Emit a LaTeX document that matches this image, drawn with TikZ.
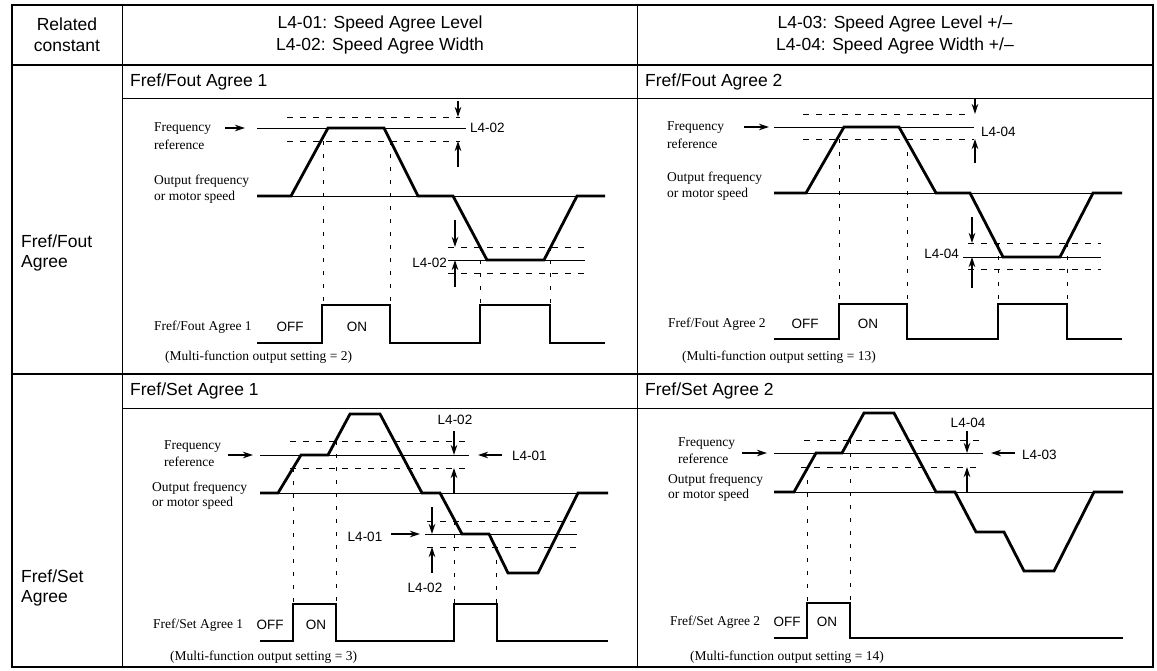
\documentclass[tikz,border=0pt]{standalone}
\usepackage{fontspec}
\newfontfamily\hv{Liberation Sans}
\newfontfamily\tm{Liberation Serif}
\usetikzlibrary{arrows.meta}
\begin{document}
\begin{tikzpicture}[x=1pt,y=-1pt,
  big/.style={inner sep=0pt,font=\hv\fontsize{17.5}{20}\selectfont},
  sm/.style={inner sep=0pt,font=\hv\fontsize{13.5}{15}\selectfont},
  sr/.style={inner sep=0pt,font=\tm\fontsize{13.5}{15}\selectfont},
  frame/.style={line width=2pt},
  grid/.style={line width=1pt},
  wave/.style={line width=2.8pt,line join=miter},
  thinl/.style={line width=1pt},
  dsh/.style={line width=0.8pt,dash pattern=on 6pt off 7pt},
  vdsh/.style={line width=0.7pt,dash pattern=on 4pt off 9pt},
  arr/.style={line width=1.1pt,-{Stealth[length=10pt,width=6.5pt]}}]
\useasboundingbox (0,0) rectangle (1157,670);
\fill[white] (0,0) rectangle (1157,670);
% ---------------- table ----------------
\draw[frame] (12,5) rectangle (1153,667);
\draw[line width=1.8pt] (12,65) -- (1153,65);
\draw[grid] (122,5) -- (122,667);
\draw[grid] (637,5) -- (637,667);
\draw[grid] (122,98) -- (1153,98);
\draw[line width=1.3pt] (12,374) -- (1153,374);
\draw[grid] (122,408) -- (1153,408);
\node[big] (hrel1) at (67,24) {Related};
\node[big] (hrel2) at (67,46) {constant};
\node[big] (hc1a) at (380,24) {L4-01: Speed Agree Level};
\node[big] (hc1b) at (380,46) {L4-02: Speed Agree Width};
\node[big] (hc2a) at (895,24) {L4-03: Speed Agree Level +/–};
\node[big] (hc2b) at (895,46) {L4-04: Speed Agree Width +/–};
\node[big,anchor=west] (sh1) at (130,81.5) {Fref/Fout Agree 1};
\node[big,anchor=west] (sh2) at (645,81.5) {Fref/Fout Agree 2};
\node[big,anchor=west] (sh3) at (130,391) {Fref/Set Agree 1};
\node[big,anchor=west] (sh4) at (645,391) {Fref/Set Agree 2};
\node[big,anchor=west] (rl1a) at (21,241) {Fref/Fout};
\node[big,anchor=west] (rl1b) at (21,263) {Agree};
\node[big,anchor=west] (rl2a) at (21,576) {Fref/Set};
\node[big,anchor=west] (rl2b) at (21,598) {Agree};
% ---------------- panel 1 ----------------
\node[sr,anchor=west] (p1fr1) at (154,129) {Frequency};
\node[sr,anchor=west] (p1fr2) at (154,145) {reference};
\node[sr,anchor=west] (p1of1) at (154,181) {Output frequency};
\node[sr,anchor=west] (p1of2) at (154,197) {or motor speed};
\coordinate (p1a0) at (225,128); \coordinate (p1a1) at (245,128);
\draw[arr] (p1a0) -- (p1a1);
\draw[thinl] (257,128) -- (466,128);
\draw[dsh] (287,117) -- (460,117);
\draw[dsh] (287,141) -- (460,141);
\draw[thinl] (257,196) -- (605,196);
\draw[thinl] (448,260) -- (585,260);
\draw[dsh] (448,247) -- (585,247);
\draw[dsh] (448,273) -- (585,273);
\draw[vdsh] (323,141) -- (323,305);
\draw[vdsh] (390,141) -- (390,305);
\draw[vdsh] (480,247) -- (480,305);
\draw[vdsh] (550,247) -- (550,305);
\draw[wave] (257,196) -- (291,196) -- (328,128) -- (384,128) -- (418,196) -- (453,196) -- (487,260) -- (544,260) -- (577,196) -- (605,196);
\coordinate (p1t0) at (458,101); \coordinate (p1t1) at (458,117);
\coordinate (p1u0) at (458,167); \coordinate (p1u1) at (458,141);
\draw[arr] (p1t0) -- (p1t1);
\draw[arr] (p1u0) -- (p1u1);
\node[sm,anchor=west] (p1l1) at (470,128) {L4-02};
\coordinate (p1d0) at (455,220); \coordinate (p1d1) at (455,247);
\coordinate (p1e0) at (455,287); \coordinate (p1e1) at (455,260);
\draw[arr] (p1d0) -- (p1d1);
\draw[arr] (p1e0) -- (p1e1);
\node[sm,anchor=east] (p1l2) at (447,263) {L4-02};
\draw[wave] (257,343) -- (322,343) -- (322,305) -- (390,305) -- (390,343) -- (480,343) -- (480,305) -- (550,305) -- (550,343) -- (605,343);
\node[sr,anchor=west] (p1sig) at (154,327) {Fref/Fout Agree 1};
\node[sm] (p1off) at (290,327) {OFF};
\node[sm] (p1on) at (357,327) {ON};
\node[sr,anchor=west] (p1mf) at (165,357) {(Multi-function output setting = 2)};
% ---------------- panel 2 ----------------
\node[sr,anchor=west] (p2fr1) at (667,128) {Frequency};
\node[sr,anchor=west] (p2fr2) at (667,144) {reference};
\node[sr,anchor=west] (p2of1) at (667,178) {Output frequency};
\node[sr,anchor=west] (p2of2) at (667,194) {or motor speed};
\coordinate (p2a0) at (744,127); \coordinate (p2a1) at (769,127);
\draw[arr] (p2a0) -- (p2a1);
\draw[thinl] (774,127) -- (974,127);
\draw[dsh] (803,114) -- (967,114);
\draw[dsh] (803,139) -- (974,139);
\draw[thinl] (774,193) -- (1122,193);
\draw[thinl] (963,257) -- (1101,257);
\draw[dsh] (968,243) -- (1101,243);
\draw[dsh] (968,269) -- (1101,269);
\draw[vdsh] (839,139) -- (839,304);
\draw[vdsh] (907,139) -- (907,304);
\draw[vdsh] (998,243) -- (998,304);
\draw[vdsh] (1067,243) -- (1067,304);
\draw[wave] (774,193) -- (806,193) -- (844,127) -- (899,127) -- (936,193) -- (970,193) -- (1003,257) -- (1060,257) -- (1093,193) -- (1122,193);
\coordinate (p2t0) at (975,99); \coordinate (p2t1) at (975,114);
\coordinate (p2u0) at (975,163); \coordinate (p2u1) at (975,139);
\draw[arr] (p2t0) -- (p2t1);
\draw[arr] (p2u0) -- (p2u1);
\node[sm,anchor=west] (p2l1) at (981,132) {L4-04};
\coordinate (p2d0) at (972,217); \coordinate (p2d1) at (972,243);
\coordinate (p2e0) at (972,288); \coordinate (p2e1) at (972,257);
\draw[arr] (p2d0) -- (p2d1);
\draw[arr] (p2e0) -- (p2e1);
\node[sm,anchor=east] (p2l2) at (959,254) {L4-04};
\draw[wave] (774,339) -- (839,339) -- (839,304) -- (907,304) -- (907,339) -- (998,339) -- (998,304) -- (1067,304) -- (1067,339) -- (1122,339);
\node[sr,anchor=west] (p2sig) at (668,324) {Fref/Fout Agree 2};
\node[sm] (p2off) at (805,324) {OFF};
\node[sm] (p2on) at (868,324) {ON};
\node[sr,anchor=west] (p2mf) at (682,357) {(Multi-function output setting = 13)};
% ---------------- panel 3 ----------------
\node[sr,anchor=west] (p3fr1) at (164,447) {Frequency};
\node[sr,anchor=west] (p3fr2) at (164,462) {reference};
\node[sr,anchor=west] (p3of1) at (152,488) {Output frequency};
\node[sr,anchor=west] (p3of2) at (152,503) {or motor speed};
\coordinate (p3a0) at (228,455); \coordinate (p3a1) at (253,455);
\draw[arr] (p3a0) -- (p3a1);
\draw[thinl] (260,455) -- (469,455);
\draw[dsh] (290,441) -- (467,441);
\draw[dsh] (290,468) -- (465,468);
\draw[thinl] (260,493) -- (608,493);
\draw[thinl] (425,534) -- (577,534);
\draw[dsh] (427,521) -- (578,521);
\draw[dsh] (427,547) -- (578,547);
\draw[vdsh] (293,468) -- (293,604);
\draw[vdsh] (336,441) -- (336,604);
\draw[vdsh] (454,521) -- (454,604);
\draw[vdsh] (496,547) -- (496,604);
\draw[wave] (260,493) -- (278,493) -- (301,455) -- (328,455) -- (350,414) -- (380,414) -- (422,493) -- (440,493) -- (462,534) -- (489,534) -- (508,573) -- (538,573) -- (578,493) -- (608,493);
\coordinate (p3t0) at (454,431); \coordinate (p3t1) at (454,455);
\coordinate (p3u0) at (454,493); \coordinate (p3u1) at (454,468);
\draw[arr] (p3t0) -- (p3t1);
\draw[arr] (p3u0) -- (p3u1);
\node[sm] (p3l1) at (455,420) {L4-02};
\coordinate (p3r0) at (502,455); \coordinate (p3r1) at (478,455);
\draw[arr] (p3r0) -- (p3r1);
\node[sm,anchor=west] (p3l2) at (512,456) {L4-01};
\coordinate (p3d0) at (432,507); \coordinate (p3d1) at (432,534);
\coordinate (p3e0) at (432,573); \coordinate (p3e1) at (432,547);
\draw[arr] (p3d0) -- (p3d1);
\draw[arr] (p3e0) -- (p3e1);
\node[sm] (p3l3) at (365,537) {L4-01};
\coordinate (p3s0) at (391,534); \coordinate (p3s1) at (420,534);
\draw[arr] (p3s0) -- (p3s1);
\node[sm] (p3l4) at (425,588) {L4-02};
\draw[wave] (260,641) -- (293,641) -- (293,604) -- (336,604) -- (336,641) -- (454,641) -- (454,604) -- (497,604) -- (497,641) -- (608,641);
\node[sr,anchor=west] (p3sig) at (153,625) {Fref/Set Agree 1};
\node[sm] (p3off) at (270,625) {OFF};
\node[sm] (p3on) at (316,625) {ON};
\node[sr,anchor=west] (p3mf) at (170,657) {(Multi-function output setting = 3)};
% ---------------- panel 4 ----------------
\node[sr,anchor=west] (p4fr1) at (678,444) {Frequency};
\node[sr,anchor=west] (p4fr2) at (678,459) {reference};
\node[sr,anchor=west] (p4of1) at (668,480) {Output frequency};
\node[sr,anchor=west] (p4of2) at (668,495) {or motor speed};
\coordinate (p4a0) at (742,453); \coordinate (p4a1) at (767,453);
\draw[arr] (p4a0) -- (p4a1);
\draw[thinl] (774,453) -- (983,453);
\draw[dsh] (804,440) -- (980,440);
\draw[dsh] (801,467) -- (977,467);
\draw[thinl] (774,492) -- (1123,492);
\draw[vdsh] (807,467) -- (807,603);
\draw[vdsh] (850,440) -- (850,603);
\draw[wave] (774,492) -- (794,492) -- (816,453) -- (842,453) -- (864,413) -- (894,413) -- (936,492) -- (955,492) -- (976,532) -- (1004,532) -- (1024,571) -- (1054,571) -- (1094,492) -- (1123,492);
\coordinate (p4t0) at (967,431); \coordinate (p4t1) at (967,453);
\coordinate (p4u0) at (967,492); \coordinate (p4u1) at (967,467);
\draw[arr] (p4t0) -- (p4t1);
\draw[arr] (p4u0) -- (p4u1);
\node[sm] (p4l1) at (968,423) {L4-04};
\coordinate (p4r0) at (1015,453); \coordinate (p4r1) at (991,453);
\draw[arr] (p4r0) -- (p4r1);
\node[sm,anchor=west] (p4l2) at (1022,455) {L4-03};
\draw[wave] (774,638) -- (807,638) -- (807,603) -- (850,603) -- (850,638) -- (1123,638);
\node[sr,anchor=west] (p4sig) at (670,622) {Fref/Set Agree 2};
\node[sm] (p4off) at (787,622) {OFF};
\node[sm] (p4on) at (827,622) {ON};
\node[sr,anchor=west] (p4mf) at (690,657) {(Multi-function output setting = 14)};
\end{tikzpicture}
\end{document}
